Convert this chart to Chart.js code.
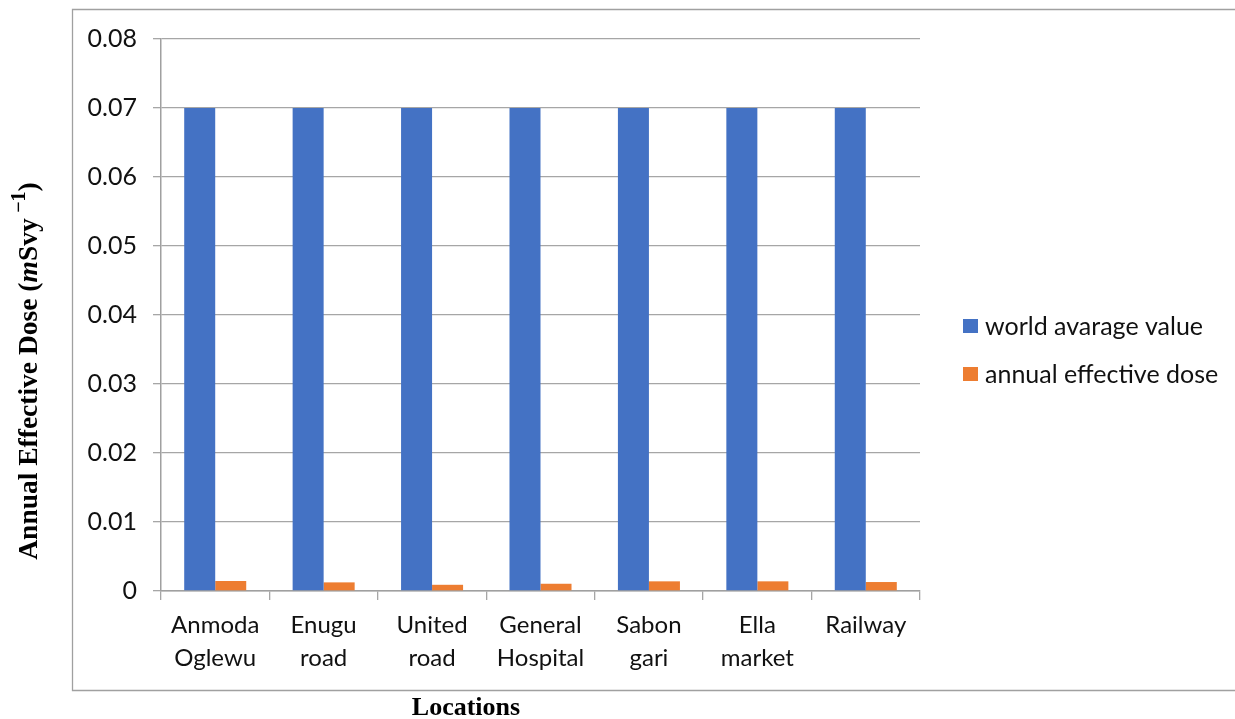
<!DOCTYPE html>
<html>
<head>
<meta charset="utf-8">
<script src="https://cdn.jsdelivr.net/npm/chart.js@4.4.1/dist/chart.umd.min.js"></script>
<style>
  html, body { margin: 0; padding: 0; background: #fff; overflow: hidden; }
  #wrap { width: 1235px; height: 719px; position: relative; }
</style>
</head>
<body>
<div id="wrap"><canvas id="c" width="1235" height="719"></canvas></div>
<script>
// Locations (two-line category labels)
const locations = [
  ['Anmoda', 'Oglewu'],
  ['Enugu', 'road'],
  ['United', 'road'],
  ['General', 'Hospital'],
  ['Sabon', 'gari'],
  ['Ella', 'market'],
  ['Railway']
];

// Annual effective dose values, mSv/y
const worldAverage = [0.07, 0.07, 0.07, 0.07, 0.07, 0.07, 0.07];
const annualDose = [0.00145, 0.00125, 0.0009, 0.00105, 0.0014, 0.0014, 0.0013];

const seriesNames = ['world avarage value', 'annual effective dose'];
const seriesColors = ['#4472C4', '#ED7D31'];

const yTickLabels = ['0', '0.01', '0.02', '0.03', '0.04', '0.05', '0.06', '0.07', '0.08'];

const tickFont = { family: 'Lato', size: 24, lineHeight: 1.38 };
const gridColor = '#a6a6a6';

// Frame, legend and axis titles drawn around the plot
const decorations = {
  id: 'decorations',
  afterDraw(chart) {
    const ctx = chart.ctx;
    const area = chart.chartArea;
    const W = chart.width;
    const frame = { left: 72.5, top: 9.5, bottom: 690.5 };
    ctx.save();

    // outer frame: top, left and bottom edges, open on the right
    ctx.strokeStyle = '#a0a0a0';
    ctx.lineWidth = 1.3;
    ctx.beginPath();
    ctx.moveTo(W + 5, frame.top);
    ctx.lineTo(frame.left, frame.top);
    ctx.lineTo(frame.left, frame.bottom);
    ctx.lineTo(W + 5, frame.bottom);
    ctx.stroke();

    // legend
    const midY = (frame.top + frame.bottom) / 2;
    const gap = 48;
    const lx = area.right + 43;
    ctx.font = '25px Lato';
    ctx.textBaseline = 'middle';
    ctx.textAlign = 'left';
    chart.data.datasets.forEach((ds, i) => {
      const cy = midY - gap / 2 + i * gap;
      ctx.fillStyle = ds.backgroundColor;
      ctx.fillRect(lx, cy - 7, 15, 14);
      ctx.fillStyle = '#111';
      ctx.fillText(ds.label, lx + 22, cy + 1);
    });

    // y-axis title, rotated, with italic m and superscript -1
    const fs = 27.5;
    const serif = '"Liberation Serif"';
    const parts = [
      { t: 'Annual Effective Dose (', f: `bold ${fs}px ${serif}`, dy: 0 },
      { t: 'm', f: `italic bold ${fs}px ${serif}`, dy: 0 },
      { t: 'Svy', f: `bold ${fs}px ${serif}`, dy: 0 },
      { t: '\u2009', f: `bold ${fs}px ${serif}`, dy: 0 },
      { t: '\u22121', f: `bold ${Math.round(fs * 0.72)}px ${serif}`, dy: -fs * 0.38 },
      { t: ')', f: `bold ${fs}px ${serif}`, dy: 0 }
    ];
    let total = 0;
    parts.forEach(p => { ctx.font = p.f; p.w = ctx.measureText(p.t).width; total += p.w; });
    ctx.translate(30, 371);
    ctx.rotate(-Math.PI / 2);
    ctx.fillStyle = '#000';
    ctx.textBaseline = 'middle';
    let x = -total / 2;
    parts.forEach(p => { ctx.font = p.f; ctx.fillText(p.t, x, p.dy); x += p.w; });
    ctx.setTransform(1, 0, 0, 1, 0, 0);

    // x-axis title
    ctx.font = `bold 26px ${serif}`;
    ctx.textAlign = 'center';
    ctx.textBaseline = 'middle';
    ctx.fillStyle = '#000';
    ctx.fillText('Locations', 466, 708);
    ctx.restore();
  }
};

new Chart(document.getElementById('c'), {
  type: 'bar',
  data: {
    labels: locations,
    datasets: [
      { label: seriesNames[0], data: worldAverage, backgroundColor: seriesColors[0] },
      { label: seriesNames[1], data: annualDose, backgroundColor: seriesColors[1] }
    ]
  },
  options: {
    responsive: false,
    animation: false,
    devicePixelRatio: 1,
    categoryPercentage: 0.572,
    barPercentage: 1.0,
    layout: { padding: { top: 39, left: 72, bottom: 29, right: 315 } },
    plugins: {
      legend: { display: false },
      tooltip: { enabled: false }
    },
    scales: {
      x: {
        grid: { display: true, drawOnChartArea: false, color: gridColor, lineWidth: 1.3, tickLength: 9, offset: true },
        border: { display: true, color: '#a0a0a0', width: 1.5 },
        ticks: { font: tickFont, color: '#111', padding: 9, maxRotation: 0, autoSkip: false },
        afterFit(s) { s.height = 99; s.paddingLeft = 0; s.paddingRight = 0; }
      },
      y: {
        min: 0,
        max: 0.08,
        grid: { color: gridColor, lineWidth: 1.3, tickLength: 8 },
        border: { display: true, color: '#a0a0a0', width: 1.5 },
        ticks: {
          stepSize: 0.01,
          font: { family: 'Lato', size: 25 },
          color: '#111',
          padding: 16,
          callback: (v, i) => yTickLabels[i]
        },
        afterFit(s) { s.width = 89; s.paddingTop = 0; s.paddingBottom = 0; }
      }
    }
  },
  plugins: [decorations]
});
</script>
</body>
</html>
